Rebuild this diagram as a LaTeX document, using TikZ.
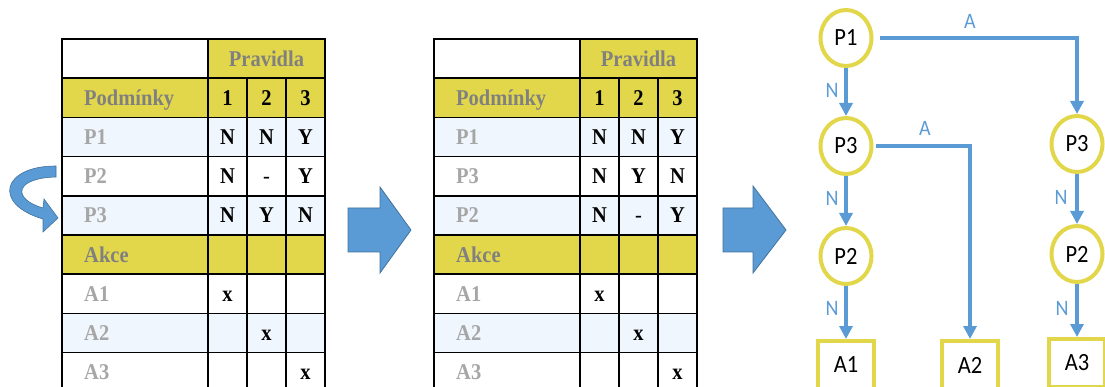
\documentclass[tikz,border=0pt]{standalone}
\usepackage{fontspec}
\usepackage{graphicx}
\setmainfont{Liberation Serif}
\newfontfamily\calibri{Carlito}
\usetikzlibrary{arrows.meta,shapes.geometric}
\definecolor{ylw}{RGB}{226,215,74}
\definecolor{rowblue}{RGB}{240,246,253}
\definecolor{lnblue}{RGB}{91,155,213}
\definecolor{aredge}{RGB}{65,113,156}
\definecolor{hdgray}{RGB}{128,128,128}
\definecolor{lbgray}{RGB}{166,166,166}
% slightly tall lettering
\newcommand\vstretch[1]{\scalebox{1}[1.1]{#1}}
% horizontal offset of the table being drawn
\def\ox{0}
% one condition/action row: table, row number, label, three entries
\newcommand\crow[6]{%
  \node[rlab] (#1-#3) at ({\ox+84},{39+39.2*(#2-0.5)+7.5}) {\vstretch{#3}};
  \node[cval] (#1-#3-1) at ({\ox+227.5},{39+39.2*(#2-0.5)+7.5}) {\vstretch{#4}};
  \node[cval] (#1-#3-2) at ({\ox+266.5},{39+39.2*(#2-0.5)+7.5}) {\vstretch{#5}};
  \node[cval] (#1-#3-3) at ({\ox+305.5},{39+39.2*(#2-0.5)+7.5}) {\vstretch{#6}};
}
% the complete decision table at horizontal offset \ox
\newcommand\dtable[2]{%
  \fill[ylw] ({\ox+208},39) rectangle ({\ox+325},78.2);
  \fill[ylw] ({\ox+62},78.2) rectangle ({\ox+325},117.4);
  \fill[rowblue] ({\ox+62},117.4) rectangle ({\ox+325},156.6);
  \fill[rowblue] ({\ox+62},195.8) rectangle ({\ox+325},235);
  \fill[ylw] ({\ox+62},235) rectangle ({\ox+325},274.2);
  \fill[rowblue] ({\ox+62},313.4) rectangle ({\ox+325},352.6);
  \draw[grid] ({\ox+62},39) rectangle ({\ox+325},392);
  \foreach \k in {1,...,8} \draw[grid] ({\ox+62},{39+39.2*\k}) -- ({\ox+325},{39+39.2*\k});
  \draw[grid] ({\ox+208},39) -- ({\ox+208},392);
  \draw[grid] ({\ox+247},78.2) -- ({\ox+247},392);
  \draw[grid] ({\ox+286},78.2) -- ({\ox+286},392);
  \node[hlab,anchor=base] (#1-prav) at ({\ox+266.5},{39+19.6+7.5}) {\vstretch{Pravidla}};
  \node[hlab] (#1-podm) at ({\ox+84},{78.2+19.6+7.5}) {\vstretch{Podmínky}};
  \node[cval] (#1-r1) at ({\ox+227.5},{78.2+19.6+7.5}) {\vstretch{1}};
  \node[cval] (#1-r2) at ({\ox+266.5},{78.2+19.6+7.5}) {\vstretch{2}};
  \node[cval] (#1-r3) at ({\ox+305.5},{78.2+19.6+7.5}) {\vstretch{3}};
  #2
  \node[hlab] (#1-akce) at ({\ox+84},{235+19.6+7.5}) {\vstretch{Akce}};
  \crow{#1}{7}{A1}{x}{}{}
  \crow{#1}{8}{A2}{}{x}{}
  \crow{#1}{9}{A3}{}{}{x}
}
\tikzset{
  grid/.style={draw=black,line width=1.6pt},
  tfont/.style={font=\fontsize{20.5}{24}\selectfont\bfseries},
  rlab/.style={tfont,anchor=base west,inner sep=0pt,text=lbgray},
  hlab/.style={tfont,anchor=base west,inner sep=0pt,text=hdgray},
  cval/.style={tfont,anchor=base,inner sep=0pt,text=black},
  blockarrow/.style={fill=lnblue,draw=aredge,line width=0.8pt},
  cnode/.style={ellipse,draw=ylw,line width=4pt,minimum width=51pt,minimum height=56pt,
    inner sep=0pt,fill=white,font=\calibri\fontsize{22.5}{26}\selectfont},
  anode/.style={rectangle,draw=ylw,line width=4pt,minimum width=56pt,minimum height=48pt,
    inner sep=0pt,fill=white,font=\calibri\fontsize{22.5}{26}\selectfont},
  flow/.style={draw=lnblue,line width=3.5pt,-{Triangle[length=13pt,width=13pt]}},
  elab/.style={text=lnblue,font=\calibri\fontsize{20}{24}\selectfont,inner sep=0pt},
}
\begin{document}
\begin{tikzpicture}[x=1pt,y=-1pt]
  \useasboundingbox (0,0) rectangle (1105,387);
  \clip (0,0) rectangle (1105,387);

  % first table: P1, P2, P3
  \def\ox{0}
  \dtable{T1}{%
    \crow{T1}{3}{P1}{N}{N}{Y}
    \crow{T1}{4}{P2}{N}{\mdseries -}{Y}
    \crow{T1}{5}{P3}{N}{Y}{N}}
  % reordered table: P1, P3, P2
  \def\ox{372}
  \dtable{T2}{%
    \crow{T2}{3}{P1}{N}{N}{Y}
    \crow{T2}{4}{P3}{N}{Y}{N}
    \crow{T2}{5}{P2}{N}{\mdseries -}{Y}}

  % curved arrow: move P3 above P2
  \fill[lnblue,draw=aredge,line width=0.6pt]
    (56,166) .. controls (2,166) and (-8,204) .. (43,219)
    -- (43,232) -- (58,218) -- (44,199) -- (43,208)
    .. controls (12,199) and (14,178) .. (56,177) -- cycle;

  % block arrows between the stages
  \draw[blockarrow] (348,208) -- (380,208) -- (380,187) -- (411,230)
    -- (380,273) -- (380,252) -- (348,252) -- cycle;
  \draw[blockarrow] (723,208) -- (753,208) -- (753,186) -- (786,230)
    -- (753,273) -- (753,252) -- (723,252) -- cycle;

  % decision tree
  \node[cnode] (p1)  at (846,38)  {\vstretch{P1}};
  \node[cnode] (p3l) at (846,146) {\vstretch{P3}};
  \node[cnode] (p2l) at (846,256) {\vstretch{P2}};
  \node[cnode] (p3r) at (1077,144) {\vstretch{P3}};
  \node[cnode] (p2r) at (1077,254) {\vstretch{P2}};
  \node[anode] (a1) at (846,365) {\vstretch{A1}};
  \node[anode] (a2) at (970,365) {\vstretch{A2}};
  \node[anode] (a3) at (1077,363) {\vstretch{A3}};

  \coordinate (c1) at (1077,38);
  \coordinate (c2) at (970,146);
  \draw[flow,shorten <=6pt] (p1.east) -- (c1) -- (p3r.north);
  \draw[flow] (p1.south) -- (p3l.north);
  \draw[flow,shorten <=2pt] (p3l.east) -- (c2) -- (a2.north);
  \draw[flow] (p3l.south) -- (p2l.north);
  \draw[flow] (p2l.south) -- (a1.north);
  \draw[flow] (p3r.south) -- (p2r.north);
  \draw[flow] (p2r.south) -- (a3.north);

  \node[elab] (la1) at (970,21)  {\vstretch{A}};
  \node[elab] (la2) at (925,128) {\vstretch{A}};
  \node[elab] (ln1) at (832,90)  {\vstretch{N}};
  \node[elab] (ln2) at (832,198) {\vstretch{N}};
  \node[elab] (ln3) at (832,308) {\vstretch{N}};
  \node[elab] (ln4) at (1061,197) {\vstretch{N}};
  \node[elab] (ln5) at (1062,308) {\vstretch{N}};
\end{tikzpicture}
\end{document}
